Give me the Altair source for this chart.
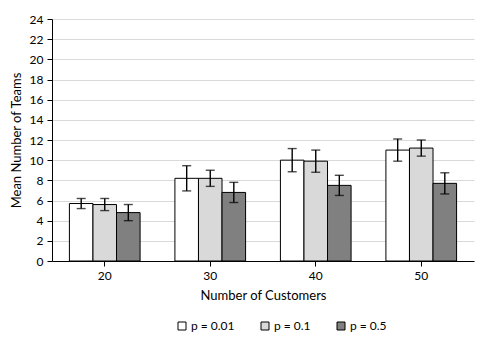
import altair as alt
import pandas as pd

customers = ["20", "30", "40", "50"]
p_labels = ["p = 0.01", "p = 0.1", "p = 0.5"]
means = {
    "p = 0.01": [5.7, 8.2, 10.0, 11.0],
    "p = 0.1": [5.6, 8.2, 9.9, 11.2],
    "p = 0.5": [4.8, 6.8, 7.5, 7.7],
}
errs = {
    "p = 0.01": [0.5, 1.25, 1.15, 1.1],
    "p = 0.1": [0.6, 0.8, 1.1, 0.8],
    "p = 0.5": [0.8, 1.0, 1.0, 1.05],
}
colors = ["#ffffff", "#d9d9d9", "#808080"]
y_ticks = list(range(0, 25, 2))

rows = []
for p in p_labels:
    for i, c in enumerate(customers):
        m, e = means[p][i], errs[p][i]
        rows.append({"customers": c, "p": p, "mean": m, "lo": m - e, "hi": m + e})
df = pd.DataFrame(rows)

FONT = "Lato"

x = alt.X("customers:N", sort=customers,
          scale=alt.Scale(paddingInner=0.33, paddingOuter=0.165),
          axis=alt.Axis(title="Number of Customers", labelAngle=0, domainColor="black",
                        tickColor="black", tickSize=5, labelFontSize=12, titleFontSize=13,
                        labelColor="black", titleColor="black", titleFontWeight="normal",
                        labelPadding=4, titlePadding=8, grid=False))
xo = alt.XOffset("p:N", sort=p_labels)
yscale = alt.Scale(domain=[0, 24], nice=False)
yaxis = alt.Axis(title="Mean Number of Teams", values=y_ticks,
                 domainColor="black", tickColor="black", tickSize=5,
                 gridColor="#d9d9d9", labelFontSize=12, titleFontSize=13,
                 labelColor="black", titleColor="black", titleFontWeight="normal",
                 labelPadding=4, titlePadding=6)

base = alt.Chart(df)

bars = base.mark_bar(stroke="black", strokeWidth=1).encode(
    x=x,
    xOffset=xo,
    y=alt.Y("mean:Q", scale=yscale, axis=yaxis),
    fill=alt.Fill("p:N", sort=p_labels,
                  scale=alt.Scale(domain=p_labels, range=colors),
                  legend=alt.Legend(title=None, orient="none", direction="horizontal",
                                    legendX=124, legendY=301, symbolType="square",
                                    symbolSize=64, symbolStrokeColor="black",
                                    symbolStrokeWidth=1, labelFontSize=12,
                                    labelColor="black", columnPadding=24,
                                    labelOffset=3)),
)

rules = base.mark_rule(color="black", strokeWidth=1.4).encode(
    x=x, xOffset=xo,
    y=alt.Y("lo:Q", scale=yscale, axis=yaxis), y2="hi:Q",
)
caps_lo = base.mark_tick(color="black", size=9, thickness=1.4).encode(
    x=x, xOffset=xo,
    y=alt.Y("lo:Q", scale=yscale, axis=yaxis),
)
caps_hi = base.mark_tick(color="black", size=9, thickness=1.4).encode(
    x=x, xOffset=xo,
    y=alt.Y("hi:Q", scale=yscale, axis=yaxis),
)

chart = alt.layer(bars, rules, caps_lo, caps_hi).properties(
    width=422, height=242,
    autosize=alt.AutoSizeParams(type="none"),
    padding={"left": 44, "top": 11, "right": 10, "bottom": 80},
).configure(font=FONT).configure_view(stroke=None)

chart.save("out.html", embed_options={"renderer": "svg", "actions": False})
